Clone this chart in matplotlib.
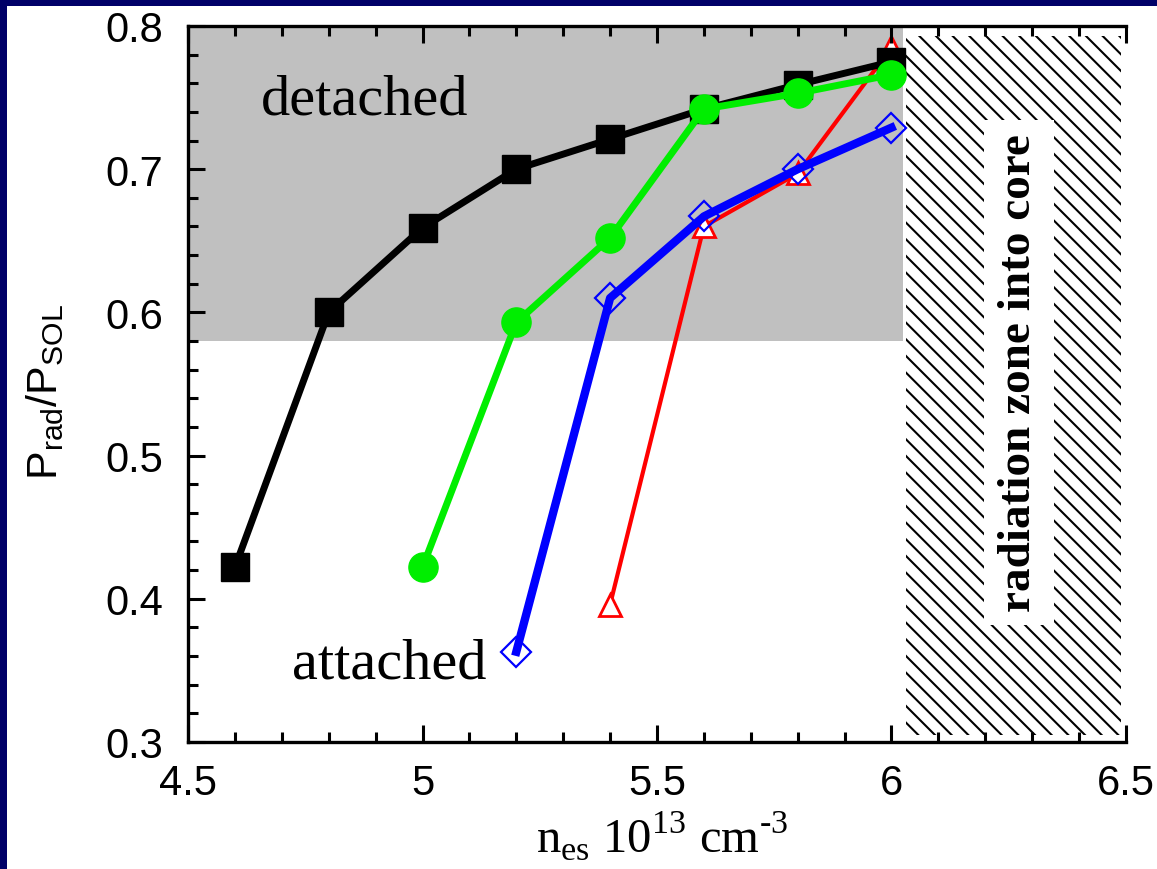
import matplotlib
matplotlib.use("Agg")
import matplotlib.pyplot as plt
from matplotlib.patches import Rectangle
from matplotlib.ticker import MultipleLocator

# density n_es (10^13 cm^-3) and P_rad/P_SOL for four cases
x_black = [4.6, 4.8, 5.0, 5.2, 5.4, 5.6, 5.8, 6.0]
y_black = [0.422, 0.600, 0.659, 0.700, 0.721, 0.742, 0.759, 0.775]

x_green = [5.0, 5.2, 5.4, 5.6, 5.8, 6.0]
y_green = [0.422, 0.593, 0.652, 0.742, 0.753, 0.766]

x_blue = [5.2, 5.4, 5.6, 5.8, 6.0]
y_blue = [0.363, 0.610, 0.667, 0.700, 0.729]

x_red = [5.4, 5.6, 5.8, 6.0]
y_red = [0.396, 0.660, 0.697, 0.785]

sans = "Liberation Sans"
serif = "Liberation Serif"
plt.rcParams["hatch.linewidth"] = 1.5
plt.rcParams["mathtext.fontset"] = "custom"
plt.rcParams["mathtext.rm"] = serif
plt.rcParams["mathtext.sf"] = sans

fig = plt.figure(figsize=(11.57, 8.70), dpi=100, facecolor="#000068")
# white panel, navy strip only on the left and top
fig.patches.append(Rectangle((7 / 1157, 0), 1, 1 - 7 / 870,
                             transform=fig.transFigure, facecolor="white",
                             edgecolor="none", zorder=-10))

ax = fig.add_axes([0.1625, 0.146, 0.8107, 0.823])
ax.set_facecolor("none")

# detached region and radiation-into-core region
ax.add_patch(Rectangle((4.5, 0.58), 1.525, 0.22, facecolor="#c0c0c0",
                       edgecolor="none", zorder=0.5))
ax.add_patch(Rectangle((6.03, 0.305), 0.46, 0.488, facecolor="white",
                       edgecolor="black", linewidth=0, hatch="\\\\", zorder=0.5))

ax.plot(x_red, y_red, color="red", lw=3, marker="^", ms=16, mfc="white",
        mec="red", mew=2, zorder=1.5)
ax.plot(x_black, y_black, color="black", lw=5, marker="s", ms=20, zorder=2)
ax.plot(x_blue, y_blue, color="blue", lw=6, marker="D", ms=15, mfc="none",
        mec="blue", mew=1.6, zorder=4)
ax.plot(x_green, y_green, color="#00ee00", lw=5, marker="o", ms=21, zorder=5)

ax.text(4.877, 0.749, "detached", family=serif, fontsize=42,
        ha="center", va="center")
ax.text(4.93, 0.355, "attached", family=serif, fontsize=42,
        ha="center", va="center")
ax.text(6.272, 0.558, "radiation zone into core", family=serif,
        fontsize=34, fontweight="bold", rotation=90, ha="center",
        va="center", zorder=6,
        bbox=dict(facecolor="white", edgecolor="none", pad=10))

ax.set_xlim(4.5, 6.5)
ax.set_ylim(0.3, 0.8)
ax.xaxis.set_major_locator(MultipleLocator(0.5))
ax.xaxis.set_minor_locator(MultipleLocator(0.1))
ax.yaxis.set_major_locator(MultipleLocator(0.1))
ax.yaxis.set_minor_locator(MultipleLocator(0.02))
ax.set_xticks([4.5, 5, 5.5, 6, 6.5])
ax.set_xticklabels(["4.5", "5", "5.5", "6", "6.5"])

for s in ["left", "bottom", "top"]:
    ax.spines[s].set_linewidth(2.4)
ax.spines["right"].set_visible(False)
ax.tick_params(which="both", direction="in", top=True, right=False,
               width=2.2, labelsize=30, labelfontfamily=sans)
ax.tick_params(which="major", length=12)
ax.tick_params(which="minor", length=7)
ax.tick_params(axis="y", pad=18)
ax.tick_params(axis="x", pad=15)

ax.set_xlabel("n$_{\\mathregular{es}}$ 10$^{\\mathregular{13}}$ cm$^{\\mathregular{\u2010 3}}$",
              family=serif, fontsize=35)
ax.xaxis.set_label_coords(0.505, -0.093)
ax.set_ylabel(r"$\mathsf{P_{rad}/P_{SOL}}$", fontsize=31)
ax.yaxis.set_label_coords(-0.13, 0.49)

fig.savefig("out.png", dpi=100, facecolor=fig.get_facecolor())
